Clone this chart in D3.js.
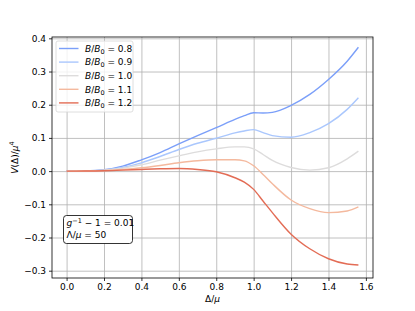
<!DOCTYPE html>
<html>
<head>
    <meta charset="utf-8">
    <script src="https://cdnjs.cloudflare.com/ajax/libs/d3/7.8.5/d3.min.js"></script>
    <style>
        body { margin: 0; background: white; }
        text { font-family: "DejaVu Sans", sans-serif; font-size: 9px; fill: #000; }
        .grid line { stroke: #b0b0b0; stroke-width: 0.8; }
        .grid path { display: none; }
        .axis path, .axis line { stroke: #000; stroke-width: 0.8; }
        .series { fill: none; stroke-width: 1.4; }
        .it { font-style: italic; }
    </style>
</head>
<body>
    <svg width="415" height="311"></svg>
    <script>
        // Delta/mu sample positions
        const deltas = [0, 0.1, 0.2, 0.3, 0.4, 0.5, 0.6, 0.7, 0.8, 0.9, 0.95, 1.0, 1.05, 1.1, 1.2, 1.3, 1.4, 1.5, 1.56];

        // V(Delta)/mu^4 for each B/B0
        const ratios = ["0.8", "0.9", "1.0", "1.1", "1.2"];
        const v08 = [0, 0.0005, 0.004, 0.015, 0.034, 0.056, 0.082, 0.107, 0.131, 0.156, 0.167, 0.176, 0.175, 0.177, 0.198, 0.231, 0.276, 0.331, 0.373];
        const v09 = [0, 0.0005, 0.003, 0.011, 0.025, 0.044, 0.065, 0.084, 0.099, 0.115, 0.121, 0.125, 0.116, 0.107, 0.102, 0.116, 0.143, 0.186, 0.221];
        const v10 = [0, 0.0004, 0.003, 0.009, 0.019, 0.033, 0.046, 0.058, 0.067, 0.073, 0.073, 0.067, 0.05, 0.032, 0.011, 0.003, 0.01, 0.037, 0.06];
        const v11 = [0, 0.0003, 0.002, 0.005, 0.01, 0.017, 0.025, 0.031, 0.034, 0.034, 0.031, 0.016, -0.01, -0.038, -0.087, -0.113, -0.125, -0.12, -0.108];
        const v12 = [0, 0.0002, 0.001, 0.003, 0.005, 0.007, 0.008, 0.005, -0.002, -0.02, -0.033, -0.055, -0.09, -0.125, -0.19, -0.234, -0.264, -0.28, -0.283];
        const seriesValues = [v08, v09, v10, v11, v12];
        const colors = ["#7b9ff9", "#aac7fd", "#dddcdc", "#f4b99e", "#e36c55"];

        const xTicks = [0, 0.2, 0.4, 0.6, 0.8, 1.0, 1.2, 1.4, 1.6];
        const yTicks = [-0.3, -0.2, -0.1, 0.0, 0.1, 0.2, 0.3, 0.4];

        const plotL = 52, plotR = 373, plotT = 37, plotB = 278;
        const svg = d3.select("svg");

        const x = d3.scaleLinear().domain([-0.078, 1.638]).range([plotL, plotR]);
        const y = d3.scaleLinear().domain([-0.322, 0.404]).range([plotB, plotT]);
        const fmt = d => d3.format(".1f")(d).replace("-", "\u2212");

        // grid
        svg.append("g")
            .attr("class", "grid")
            .attr("transform", `translate(0,${plotB})`)
            .call(d3.axisBottom(x).tickValues(xTicks).tickSize(-(plotB - plotT)).tickFormat(""));
        svg.append("g")
            .attr("class", "grid")
            .attr("transform", `translate(${plotL},0)`)
            .call(d3.axisLeft(y).tickValues(yTicks).tickSize(-(plotR - plotL)).tickFormat(""));

        // curves
        const line = d3.line()
            .x(d => x(d[0]))
            .y(d => y(d[1]))
            .curve(d3.curveMonotoneX);

        seriesValues.forEach((vals, i) => {
            svg.append("path")
                .datum(deltas.map((d, j) => [d, vals[j]]))
                .attr("class", "series")
                .attr("stroke", colors[i])
                .attr("d", line);
        });

        // axes
        svg.append("g")
            .attr("class", "axis")
            .attr("transform", `translate(0,${plotB})`)
            .call(d3.axisBottom(x).tickValues(xTicks).tickSize(3).tickPadding(3).tickFormat(fmt));
        svg.append("g")
            .attr("class", "axis")
            .attr("transform", `translate(${plotL},0)`)
            .call(d3.axisLeft(y).tickValues(yTicks).tickSize(3).tickPadding(3).tickFormat(fmt));
        svg.selectAll(".axis .tick text")
            .attr("fill", "#000")
            .attr("font-family", "DejaVu Sans")
            .attr("font-size", 9);
        svg.selectAll(".axis .domain").remove();

        svg.append("rect")
            .attr("x", plotL).attr("y", plotT)
            .attr("width", plotR - plotL).attr("height", plotB - plotT)
            .attr("fill", "none").attr("stroke", "#000").attr("stroke-width", 0.8);

        // axis labels
        const xl = svg.append("text")
            .attr("x", (plotL + plotR) / 2).attr("y", 302)
            .attr("text-anchor", "middle");
        xl.append("tspan").text("\u0394/");
        xl.append("tspan").attr("class", "it").text("\u03bc");

        const yl = svg.append("text")
            .attr("transform", `translate(18,${(plotT + plotB) / 2}) rotate(-90)`)
            .attr("text-anchor", "middle");
        yl.append("tspan").attr("class", "it").text("V");
        yl.append("tspan").text("(\u0394)/");
        yl.append("tspan").attr("class", "it").text("\u03bc");
        yl.append("tspan").attr("dy", -4).style("font-size", "6.5px").text("4");

        // legend
        const lg = svg.append("g");
        lg.append("rect")
            .attr("x", 56).attr("y", 41)
            .attr("width", 77).attr("height", 71)
            .attr("rx", 2)
            .attr("fill", "white").attr("fill-opacity", 0.8)
            .attr("stroke", "#d5d5d5").attr("stroke-width", 0.8);
        ratios.forEach((r, i) => {
            const yy = 48.5 + i * 13.6;
            lg.append("line")
                .attr("x1", 59).attr("x2", 78.5)
                .attr("y1", yy).attr("y2", yy)
                .attr("stroke", colors[i]).attr("stroke-width", 1.4);
            const t = lg.append("text").attr("x", 85).attr("y", yy + 3.2);
            t.append("tspan").attr("class", "it").text("B");
            t.append("tspan").text("/");
            t.append("tspan").attr("class", "it").text("B");
            t.append("tspan").attr("dy", 2).style("font-size", "6.5px").text("0");
            t.append("tspan").attr("dy", -2).text(" = " + r);
        });

        // annotation box
        const an = svg.append("g");
        an.append("rect")
            .attr("x", 63.5).attr("y", 215.5)
            .attr("width", 69).attr("height", 28)
            .attr("rx", 3)
            .attr("fill", "white")
            .attr("stroke", "#000").attr("stroke-width", 0.8);
        const a1 = an.append("text").attr("x", 66.5).attr("y", 226);
        a1.append("tspan").attr("class", "it").text("g");
        a1.append("tspan").attr("dy", -3.5).style("font-size", "6.5px").text("\u22121");
        a1.append("tspan").attr("dy", 3.5).text(" \u2212 1 = 0.01");
        const a2 = an.append("text").attr("x", 66.5).attr("y", 238);
        a2.append("tspan").text("\u039b/");
        a2.append("tspan").attr("class", "it").text("\u03bc");
        a2.append("tspan").text(" = 50");
    </script>
</body>
</html>
